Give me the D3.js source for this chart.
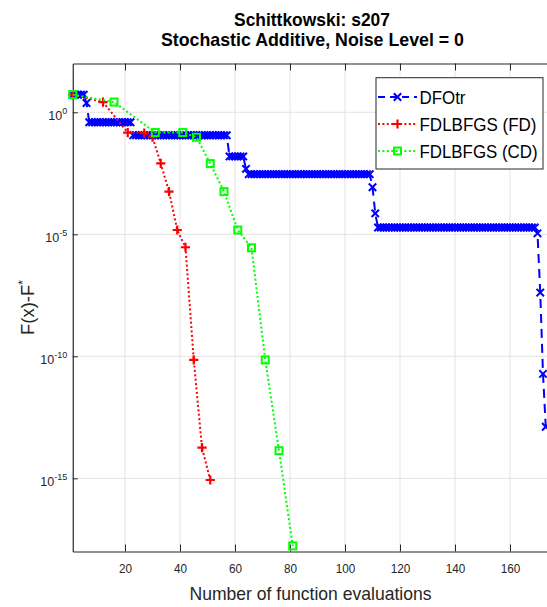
<!DOCTYPE html>
<html><head><meta charset="utf-8">
<script src="https://cdn.jsdelivr.net/npm/d3@7"></script>
<style>
body{margin:0;background:#fff}
svg{display:block}
text{font-family:"Liberation Sans",Arial,Helvetica,sans-serif}
</style>
</head><body>
<svg id="chart" width="547" height="607"></svg>
<script>
// ---------------- data ----------------
const titleLines = ["Schittkowski: s207", "Stochastic Additive, Noise Level = 0"];
const xLabel = "Number of function evaluations";
const yLabelMain = "F(x)-F";
const yLabelSup = "*";
const xTicks = [20, 40, 60, 80, 100, 120, 140, 160];
const yTickExps = [0, -5, -10, -15];
const seriesNames = ["DFOtr", "FDLBFGS (FD)", "FDLBFGS (CD)"];

// DFOtr: one value per function evaluation 1..173
const dfoEvals = d3.range(1, 174);
const dfoValues = [
  5.3, 5.3, 5.3, 5.3, 5.3,
  2.4,
  0.39, 0.39, 0.39, 0.39, 0.39, 0.39, 0.39, 0.39, 0.39, 0.39, 0.39, 0.39, 0.39, 0.39, 0.39, 0.39,
  0.115, 0.115, 0.115, 0.115, 0.115, 0.115, 0.115, 0.115, 0.115, 0.115,
  0.115, 0.115, 0.115, 0.115, 0.115, 0.115, 0.115, 0.115, 0.115, 0.115,
  0.115, 0.115, 0.115, 0.115, 0.115, 0.115, 0.115, 0.115, 0.115, 0.115,
  0.115, 0.115, 0.115, 0.115, 0.115,
  0.0155, 0.0155, 0.0155, 0.0155, 0.0155, 0.0155,
  0.0048,
  0.0029, 0.0029, 0.0029, 0.0029, 0.0029, 0.0029, 0.0029, 0.0029, 0.0029, 0.0029,
  0.0029, 0.0029, 0.0029, 0.0029, 0.0029, 0.0029, 0.0029, 0.0029, 0.0029, 0.0029,
  0.0029, 0.0029, 0.0029, 0.0029, 0.0029, 0.0029, 0.0029, 0.0029, 0.0029, 0.0029,
  0.0029, 0.0029, 0.0029, 0.0029, 0.0029, 0.0029, 0.0029, 0.0029, 0.0029, 0.0029,
  0.0029, 0.0029, 0.0029, 0.0029, 0.0029,
  8.5e-4,
  7.2e-5,
  1.9e-5, 1.9e-5, 1.9e-5, 1.9e-5, 1.9e-5, 1.9e-5, 1.9e-5, 1.9e-5, 1.9e-5, 1.9e-5,
  1.9e-5, 1.9e-5, 1.9e-5, 1.9e-5, 1.9e-5, 1.9e-5, 1.9e-5, 1.9e-5, 1.9e-5, 1.9e-5,
  1.9e-5, 1.9e-5, 1.9e-5, 1.9e-5, 1.9e-5, 1.9e-5, 1.9e-5, 1.9e-5, 1.9e-5, 1.9e-5,
  1.9e-5, 1.9e-5, 1.9e-5, 1.9e-5, 1.9e-5, 1.9e-5, 1.9e-5, 1.9e-5, 1.9e-5, 1.9e-5,
  1.9e-5, 1.9e-5, 1.9e-5, 1.9e-5, 1.9e-5, 1.9e-5, 1.9e-5, 1.9e-5, 1.9e-5, 1.9e-5,
  1.9e-5, 1.9e-5, 1.9e-5, 1.9e-5, 1.9e-5, 1.9e-5, 1.9e-5, 1.9e-5,
  1.1e-5,
  4.1e-8,
  1.9e-11,
  1.3e-13
];

const fdEvals  = [1, 12, 21, 27, 30, 33, 36, 39, 42, 45, 48, 51];
const fdValues = [5.3, 2.63, 0.148, 0.141, 0.095, 8.1e-3, 5.6e-4, 1.5e-5, 2.95e-6, 7.1e-11, 1.8e-14, 8.5e-16];

const cdEvals  = [1, 16, 31, 41, 46, 51, 56, 61, 66, 71, 76, 81];
const cdValues = [5.3, 2.63, 0.148, 0.148, 0.095, 7.9e-3, 5.6e-4, 1.5e-5, 2.8e-6, 7.1e-11, 1.35e-14, 1.7e-18];

// ---------------- layout ----------------
const W = 547, H = 607;
const pL = 72.75, pR = 551.25, pT = 63.5, pB = 551.5;
const axisColor = "#262626", gridColor = "#e3e3e3";

const svg = d3.select("#chart");
svg.append("rect").attr("width", W).attr("height", H).attr("fill", "#fff");

const x = d3.scaleLinear().domain([1, 175]).range([pL, pR]);
const y = d3.scaleLog().domain([1e-18, 1e2]).range([pB, pT]);

// grid
const grid = svg.append("g");
grid.selectAll("line.gx").data(xTicks).join("line").attr("class", "gx")
  .attr("x1", d => x(d)).attr("x2", d => x(d)).attr("y1", pT).attr("y2", pB)
  .attr("stroke", gridColor).attr("stroke-width", 1);
grid.selectAll("line.gy").data(yTickExps).join("line").attr("class", "gy")
  .attr("x1", pL).attr("x2", pR).attr("y1", d => y(Math.pow(10, d))).attr("y2", d => y(Math.pow(10, d)))
  .attr("stroke", gridColor).attr("stroke-width", 1);

// axes
const gBottom = svg.append("g").attr("transform", `translate(0,${pB})`)
  .call(d3.axisBottom(x).tickValues(xTicks).tickSizeInner(-7).tickSizeOuter(0).tickPadding(13).tickFormat(d3.format("d")));
const gTop = svg.append("g").attr("transform", `translate(0,${pT})`)
  .call(d3.axisTop(x).tickValues(xTicks).tickSizeInner(-7).tickSizeOuter(0).tickFormat(""));
const gLeft = svg.append("g").attr("transform", `translate(${pL},0)`)
  .call(d3.axisLeft(y).tickValues(yTickExps.map(e => Math.pow(10, e))).tickSizeInner(-5).tickSizeOuter(0).tickPadding(9).tickFormat(""));
[gBottom, gTop, gLeft].forEach(g => {
  g.select(".domain").attr("stroke", axisColor).attr("stroke-width", 1.2);
  g.selectAll(".tick line").attr("stroke", axisColor).attr("stroke-width", 1);
});
gBottom.selectAll(".tick text").attr("font-size", 12.5).attr("fill", axisColor)
  .attr("font-family", "'Liberation Sans',Arial,sans-serif")
  .attr("transform", "scale(0.94,1)");
gLeft.selectAll(".tick text").each(function(d) {
  const t = d3.select(this);
  const e = Math.round(Math.log10(d));
  t.attr("font-size", 12.5).attr("fill", axisColor).attr("x", -5.5).attr("dy", "0.55em")
   .attr("font-family", "'Liberation Sans',Arial,sans-serif");
  t.append("tspan").text("10");
  t.append("tspan").attr("dy", "-0.62em").attr("font-size", 9).text(String(e));
});

// ---------------- series ----------------
const series = [
  {name: seriesNames[0], ev: dfoEvals, val: dfoValues, color: "#0000ff", dash: "9,6", marker: "x"},
  {name: seriesNames[1], ev: fdEvals,  val: fdValues,  color: "#ff0000", dash: "2,2.4", marker: "plus"},
  {name: seriesNames[2], ev: cdEvals,  val: cdValues,  color: "#00ff00", dash: "2,2.4", marker: "square"}
];

const lineGen = d3.line().x(d => x(d[0])).y(d => y(d[1]));

function drawMarker(g, type, cx, cy, color) {
  if (type === "x") {
    const s = 3.7;
    g.append("path").attr("d", `M${cx-s},${cy-s}L${cx+s},${cy+s}M${cx-s},${cy+s}L${cx+s},${cy-s}`)
      .attr("stroke", color).attr("stroke-width", 2).attr("fill", "none");
  } else if (type === "plus") {
    const s = 4.6;
    g.append("path").attr("d", `M${cx-s},${cy}L${cx+s},${cy}M${cx},${cy-s}L${cx},${cy+s}`)
      .attr("stroke", color).attr("stroke-width", 2.2).attr("fill", "none");
  } else {
    const s = 3.5;
    g.append("rect").attr("x", cx - s).attr("y", cy - s).attr("width", 2 * s).attr("height", 2 * s)
      .attr("stroke", color).attr("stroke-width", 2).attr("fill", "none");
  }
}

series.forEach(s => {
  const pts = s.ev.map((e, i) => [e, s.val[i]]);
  const g = svg.append("g");
  g.append("path").attr("d", lineGen(pts)).attr("fill", "none")
    .attr("stroke", s.color).attr("stroke-width", 2).attr("stroke-dasharray", s.dash);
  pts.forEach(p => drawMarker(g, s.marker, x(p[0]), y(p[1]), s.color));
});

// ---------------- titles / labels ----------------
svg.append("text").attr("x", 312).attr("y", 26).attr("text-anchor", "middle")
  .attr("font-size", 19).attr("font-weight", "bold").attr("fill", "#000")
  .attr("textLength", 156).attr("lengthAdjust", "spacingAndGlyphs").text(titleLines[0]);
svg.append("text").attr("x", 312.5).attr("y", 46).attr("text-anchor", "middle")
  .attr("font-size", 19).attr("font-weight", "bold").attr("fill", "#000")
  .attr("textLength", 303).attr("lengthAdjust", "spacingAndGlyphs").text(titleLines[1]);

svg.append("text").attr("x", 310.5).attr("y", 600).attr("text-anchor", "middle")
  .attr("font-size", 19).attr("fill", axisColor)
  .attr("textLength", 242).attr("lengthAdjust", "spacingAndGlyphs").text(xLabel);

const yl = svg.append("text").attr("transform", `translate(33.5,${(pT + pB) / 2}) rotate(-90)`)
  .attr("text-anchor", "middle").attr("font-size", 18.5).attr("fill", axisColor);
yl.append("tspan").text(yLabelMain);
yl.append("tspan").attr("dy", "-0.55em").attr("font-size", 12).text(yLabelSup);

// ---------------- legend ----------------
const lg = svg.append("g");
lg.append("rect").attr("x", 376).attr("y", 77.7).attr("width", 167).attr("height", 91.3)
  .attr("fill", "#fff").attr("stroke", axisColor).attr("stroke-width", 1);
const legendY = [97, 124, 151];
const legendTextW = [46, 117, 118];
series.forEach((s, i) => {
  const cy = legendY[i];
  lg.append("line").attr("x1", 378).attr("x2", 417).attr("y1", cy).attr("y2", cy)
    .attr("stroke", s.color).attr("stroke-width", 2).attr("stroke-dasharray", i === 0 ? "7,5" : "2,2.4");
  drawMarker(lg, s.marker, 397.5, cy, s.color);
  lg.append("text").attr("x", 419.5).attr("y", cy + 6.5).attr("font-size", 18).attr("fill", "#000")
    .attr("textLength", legendTextW[i]).attr("lengthAdjust", "spacingAndGlyphs")
    .text(s.name);
});
</script>
</body></html>
